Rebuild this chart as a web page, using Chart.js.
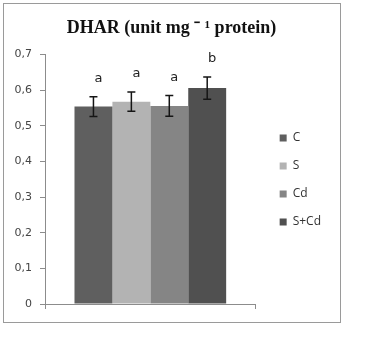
<!DOCTYPE html>
<html lang="en">
<head>
    <meta charset="UTF-8">
    <title>DHAR</title>
    <script src="https://cdn.jsdelivr.net/npm/chart.js"></script>
    <style>
        body { margin: 0; background: #fff; }
        #frame { position: absolute; left: 3px; top: 3px; width: 336px; height: 318px; border: 1px solid #9a9a9a; }
        #wrap { position: absolute; left: 0; top: 0; width: 340px; height: 343px; }
    </style>
</head>
<body>
    <div id="frame"></div>
    <div id="wrap"><canvas id="chart"></canvas></div>
    <script>
        // treatments
        var groups = ['C', 'S', 'Cd', 'S+Cd'];
        var dharValues = [0.554, 0.568, 0.556, 0.606];
        var dharErrors = [0.028, 0.027, 0.029, 0.031];
        var letters = ['a', 'a', 'a', 'b'];
        var barColors = ['#5f5f5f', '#b3b3b3', '#858585', '#505050'];
        var yTickLabels = ['0', '0,1', '0,2', '0,3', '0,4', '0,5', '0,6', '0,7'];

        var datasets = groups.map(function(g, i) {
            return {
                label: g,
                data: [dharValues[i]],
                backgroundColor: barColors[i],
                borderWidth: 0,
                barPercentage: 1,
                categoryPercentage: 0.72
            };
        });

        // error bars + significance letters
        var errorBars = {
            id: 'errorBars',
            afterDatasetsDraw: function(chart) {
                var ctx = chart.ctx, y = chart.scales.y;
                ctx.save();
                ctx.strokeStyle = '#151515';
                ctx.lineWidth = 1.5;
                ctx.fillStyle = '#222';
                ctx.font = '13px "DejaVu Sans"';
                ctx.textAlign = 'center';
                ctx.textBaseline = 'middle';
                chart.data.datasets.forEach(function(ds, i) {
                    var bar = chart.getDatasetMeta(i).data[0];
                    var top = y.getPixelForValue(dharValues[i] + dharErrors[i]);
                    var bot = y.getPixelForValue(dharValues[i] - dharErrors[i]);
                    ctx.beginPath();
                    ctx.moveTo(bar.x, top); ctx.lineTo(bar.x, bot);
                    ctx.moveTo(bar.x - 4, top); ctx.lineTo(bar.x + 4, top);
                    ctx.moveTo(bar.x - 4, bot); ctx.lineTo(bar.x + 4, bot);
                    ctx.stroke();
                    ctx.fillText(letters[i], bar.x + 5, top - 18);
                });
                ctx.restore();
            }
        };

        new Chart(document.getElementById('chart'), {
            type: 'bar',
            data: { labels: [''], datasets: datasets },
            plugins: [errorBars],
            options: {
                responsive: true,
                maintainAspectRatio: false,
                animation: false,
                layout: { padding: { left: 12, right: 9, top: 0, bottom: 29 } },
                plugins: {
                    title: {
                        display: true,
                        text: 'DHAR (unit mg \u207B \u00B9 protein)',
                        color: '#111',
                        font: { family: '"Liberation Serif"', size: 18, weight: 'bold', lineHeight: 1.2 },
                        padding: { top: 18, bottom: 15 }
                    },
                    legend: {
                        position: 'right',
                        maxWidth: 120,
                        title: { display: true, text: '', font: { size: 10, lineHeight: 1 }, padding: { top: 36, bottom: 0 } },
                        labels: {
                            boxWidth: 7,
                            boxHeight: 7,
                            padding: 16,
                            color: '#333',
                            font: { family: '"Open Sans"', size: 12 }
                        }
                    },
                    tooltip: { enabled: false }
                },
                scales: {
                    x: {
                        offset: true,
                        grid: { offset: true, drawOnChartArea: false, drawTicks: true, tickLength: 5, color: '#8c8c8c' },
                        border: { color: '#8c8c8c' },
                        ticks: { display: false },
                        afterFit: function(s) { s.height = 10; }
                    },
                    y: {
                        min: 0,
                        max: 0.7,
                        ticks: {
                            stepSize: 0.1,
                            padding: 8,
                            color: '#444',
                            font: { family: '"DejaVu Sans"', size: 11 },
                            callback: function(v, i) { return yTickLabels[i]; }
                        },
                        grid: { drawOnChartArea: false, drawTicks: true, tickLength: 5, color: '#8c8c8c' },
                        border: { color: '#8c8c8c' },
                        afterFit: function(s) { s.width = 33; }
                    },
                    // empty strip between plot and legend
                    gap: {
                        type: 'linear',
                        position: 'right',
                        grid: { display: false },
                        border: { display: false },
                        ticks: { display: false },
                        afterFit: function(s) { s.width = 8; }
                    }
                }
            }
        });
    </script>
</body>
</html>
